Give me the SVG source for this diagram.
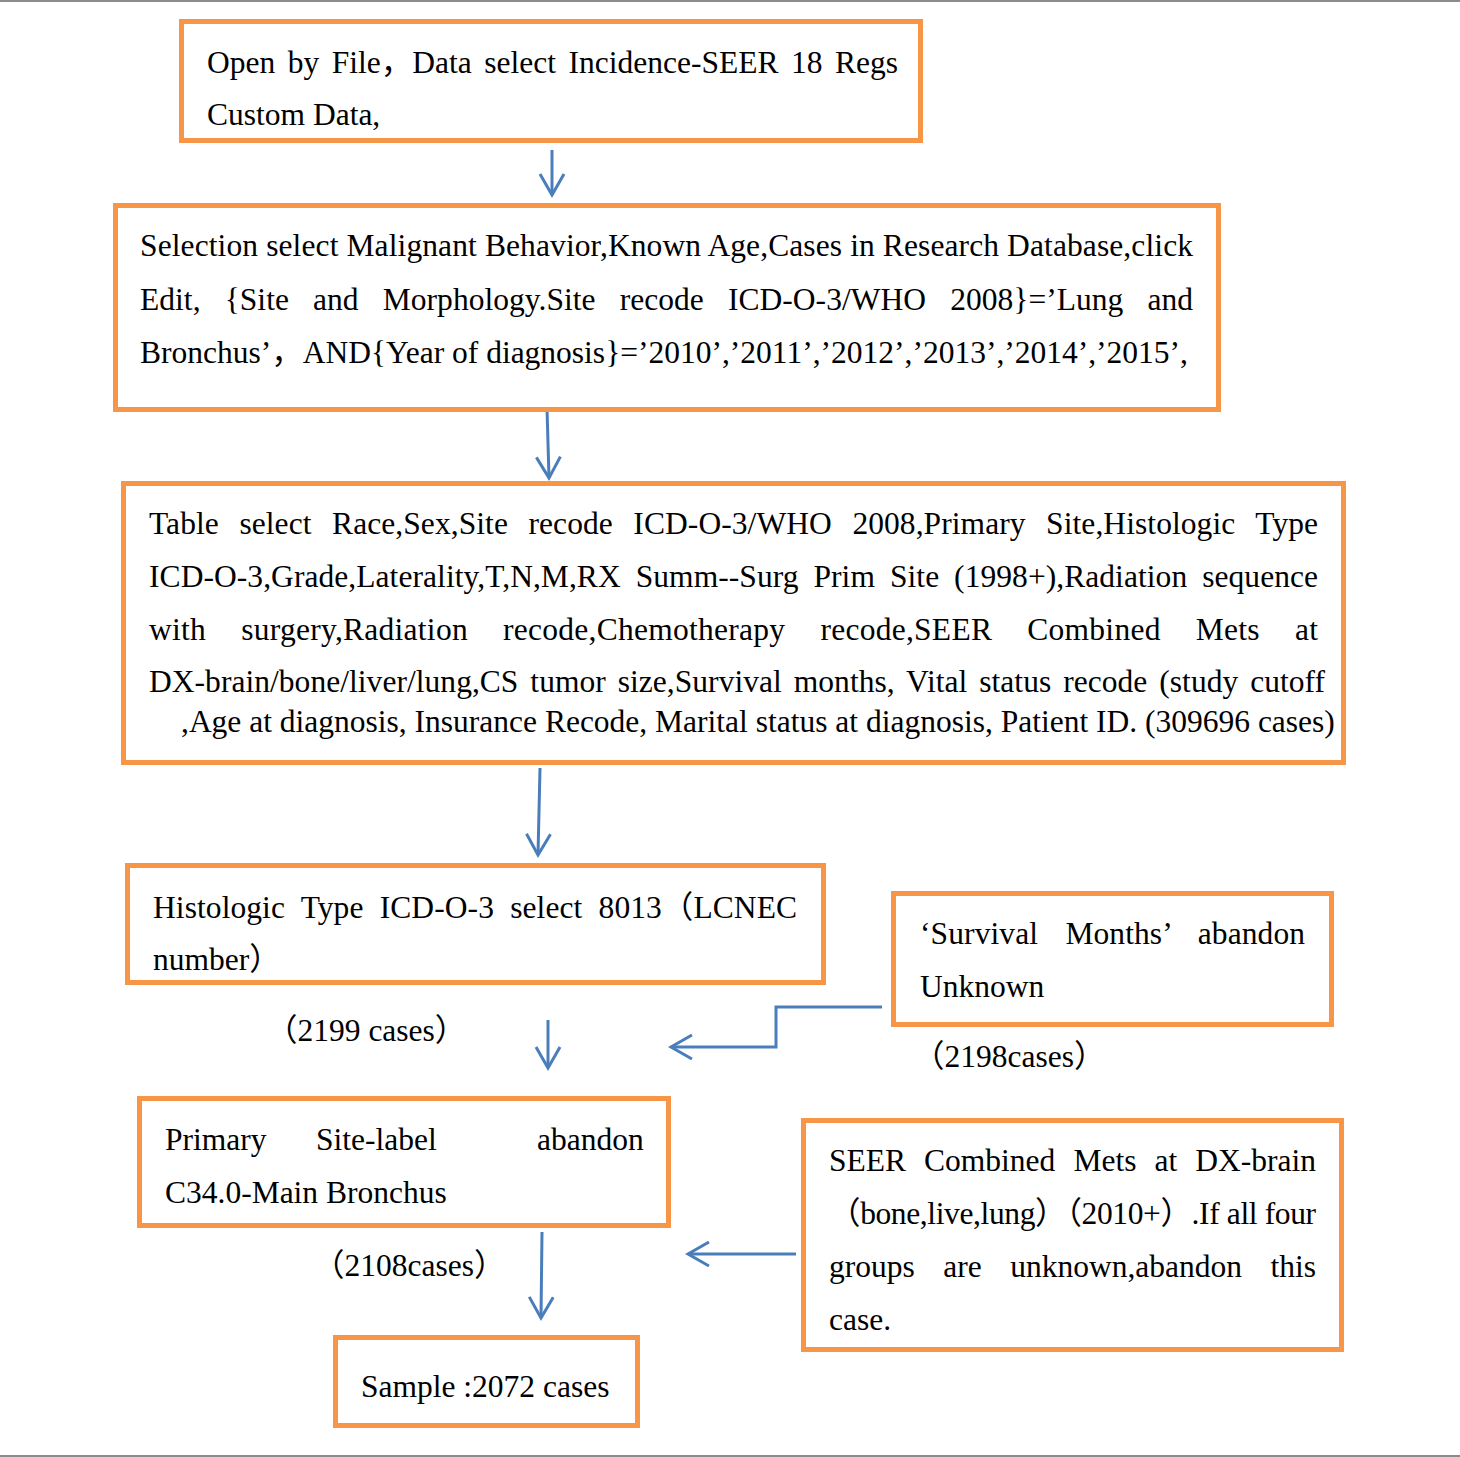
<svg xmlns="http://www.w3.org/2000/svg" width="1460" height="1457" viewBox="0 0 1460 1457">
<style>
.box{fill:#fff;stroke:#F79646;stroke-width:5}
.t{font-family:"Liberation Serif","Noto Sans CJK SC",serif;font-size:31.5px;fill:#000}
.c{fill:none;stroke:#4A7EBB;stroke-width:3}
.frame{stroke:#8c8c8c;stroke-width:2}
</style>
<defs>
<marker id="ah" markerUnits="userSpaceOnUse" markerWidth="30" markerHeight="30" viewBox="-26 -15 30 30" refX="0" refY="0" orient="auto">
<path d="M-21,-12 L0,0 L-21,12" fill="none" stroke="#4A7EBB" stroke-width="3"/>
</marker>
</defs>
<rect width="1460" height="1457" fill="#fff"/>
<line class="frame" x1="0" y1="1" x2="1460" y2="1"/>
<line class="frame" x1="0" y1="1456" x2="1460" y2="1456"/>

<g id="connectors">
<path class="c" d="M552,150 L552,195" marker-end="url(#ah)"/>
<path class="c" d="M547,408 L549,478" marker-end="url(#ah)"/>
<path class="c" d="M540,768 L538,855" marker-end="url(#ah)"/>
<path class="c" d="M548,1020 L548,1068" marker-end="url(#ah)"/>
<path class="c" d="M882,1007 L776,1007 L776,1047 L671,1047" marker-end="url(#ah)"/>
<path class="c" d="M542,1232 L541,1318" marker-end="url(#ah)"/>
<path class="c" d="M796,1254 L688,1254" marker-end="url(#ah)"/>
</g>

<g id="n1">
<rect class="box" x="181.5" y="21.5" width="739" height="119"/>
<text class="t" x="207" y="73" style="word-spacing:4.6px" textLength="691" lengthAdjust="spacing">Open by File，Data select Incidence-SEER 18 Regs</text>
<text class="t" x="207" y="125">Custom Data,</text>
</g>

<g id="n2">
<rect class="box" x="115.5" y="205.5" width="1103" height="204"/>
<text class="t" x="140" y="256" textLength="1053" lengthAdjust="spacing">Selection select Malignant Behavior,Known Age,Cases in Research Database,click</text>
<text class="t" x="140" y="310" style="word-spacing:16.2px" textLength="1053" lengthAdjust="spacing">Edit, {Site and Morphology.Site recode ICD-O-3/WHO 2008}=’Lung and</text>
<text class="t" x="140" y="363">Bronchus’，AND{Year of diagnosis}=’2010’,’2011’,’2012’,’2013’,’2014’,’2015’,</text>
</g>

<g id="n3">
<rect class="box" x="123.5" y="483.5" width="1220" height="279"/>
<text class="t" x="149" y="534" style="word-spacing:12.6px" textLength="1169" lengthAdjust="spacing">Table select Race,Sex,Site recode ICD-O-3/WHO 2008,Primary Site,Histologic Type</text>
<text class="t" x="149" y="587" style="word-spacing:7px" textLength="1169" lengthAdjust="spacing">ICD-O-3,Grade,Laterality,T,N,M,RX Summ--Surg Prim Site (1998+),Radiation sequence</text>
<text class="t" x="149" y="640" style="word-spacing:27px" textLength="1169" lengthAdjust="spacing">with surgery,Radiation recode,Chemotherapy recode,SEER Combined Mets at</text>
<text class="t" x="149" y="692" style="word-spacing:4px" textLength="1176" lengthAdjust="spacing">DX-brain/bone/liver/lung,CS tumor size,Survival months, Vital status recode (study cutoff</text>
<text class="t" x="181" y="732">,Age at diagnosis, Insurance Recode, Marital status at diagnosis, Patient ID. (309696 cases)</text>
</g>

<g id="n4">
<rect class="box" x="127.5" y="865.5" width="696" height="117"/>
<text class="t" x="153" y="918" style="word-spacing:8.3px" textLength="644" lengthAdjust="spacing">Histologic Type ICD-O-3 select 8013（LCNEC</text>
<text class="t" x="153" y="970">number）</text>
</g>

<g id="n5">
<rect class="box" x="893.5" y="893.5" width="438" height="131"/>
<text class="t" x="920" y="944" style="word-spacing:19.3px" textLength="385" lengthAdjust="spacing">‘Survival Months’ abandon</text>
<text class="t" x="920" y="997">Unknown</text>
</g>

<g id="l1"><text class="t" x="266" y="1041">（2199 cases）</text></g>
<g id="l2"><text class="t" x="913" y="1067">（2198cases）</text></g>

<g id="n6">
<rect class="box" x="139.5" y="1098.5" width="529" height="127"/>
<text class="t" y="1150"><tspan x="165">Primary</tspan><tspan x="316">Site-label</tspan><tspan x="537">abandon</tspan></text>
<text class="t" x="165" y="1203">C34.0-Main Bronchus</text>
</g>

<g id="l3"><text class="t" x="313" y="1276">（2108cases）</text></g>

<g id="n7">
<rect class="box" x="803.5" y="1120.5" width="538" height="229"/>
<text class="t" x="829" y="1171" style="word-spacing:10.2px" textLength="487" lengthAdjust="spacing">SEER Combined Mets at DX-brain</text>
<text class="t" x="829" y="1224" textLength="487" lengthAdjust="spacing">（bone,live,lung）（2010+）.If all four</text>
<text class="t" x="829" y="1277" style="word-spacing:20.6px" textLength="487" lengthAdjust="spacing">groups are unknown,abandon this</text>
<text class="t" x="829" y="1330">case.</text>
</g>

<g id="n8">
<rect class="box" x="335.5" y="1337.5" width="302" height="88"/>
<text class="t" x="361" y="1397">Sample :2072 cases</text>
</g>
</svg>
